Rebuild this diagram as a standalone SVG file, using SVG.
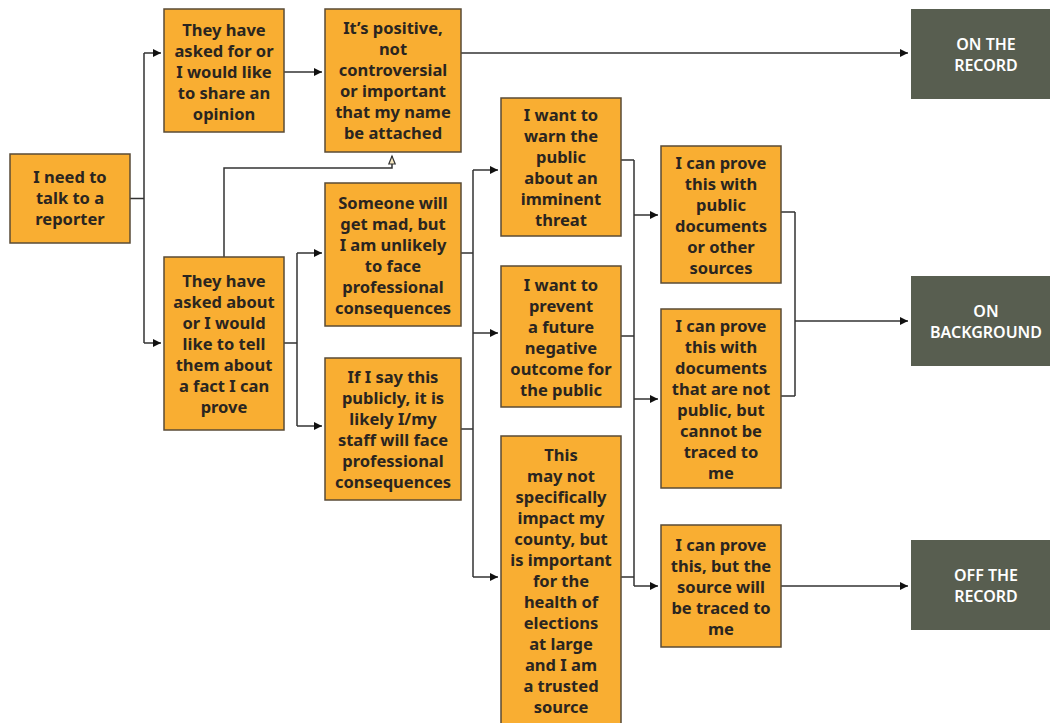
<svg xmlns="http://www.w3.org/2000/svg" width="1050" height="723" viewBox="0 0 1050 723">
<style>
.b{fill:#F9AE32;stroke:#5a4b36;stroke-width:1.5}
.g{fill:#585E50}
.t{font-family:"Noto Sans","Open Sans","Liberation Sans",sans-serif;font-weight:700;font-size:16.5px;fill:#2a2520;text-anchor:middle}
.w{font-family:"Noto Sans","Open Sans","Liberation Sans",sans-serif;font-weight:600;font-size:16px;fill:#ffffff;text-anchor:middle}
.c{fill:none;stroke:#333;stroke-width:1.5}
</style>
<defs>
<marker id="a" viewBox="0 0 10 10" refX="10" refY="5" markerWidth="8" markerHeight="8" markerUnits="userSpaceOnUse" orient="auto" overflow="visible">
<path d="M0,0 L10,5 L0,10 z" fill="#111"/>
</marker>
<marker id="h" viewBox="0 0 10 10" refX="10" refY="5" markerWidth="8" markerHeight="8" markerUnits="userSpaceOnUse" orient="auto" overflow="visible">
<path d="M0,1 L10,5 L0,9 z" fill="#F5E6C0" stroke="#333" stroke-width="1.5"/>
</marker>
</defs>
<rect width="1050" height="723" fill="#ffffff"/>
<g id="connectors">
<path class="c" d="M130,198.5 H144 M144,53 V343"/>
<path class="c" d="M144,53 H161" marker-end="url(#a)"/>
<path class="c" d="M144,343 H161" marker-end="url(#a)"/>
<path class="c" d="M284,72 H322" marker-end="url(#a)"/>
<path class="c" d="M461,53 H908" marker-end="url(#a)"/>
<path class="c" d="M224,257 V168 H392 V156" marker-end="url(#h)"/>
<path class="c" d="M284,343 H297 M297,253 V426"/>
<path class="c" d="M297,253 H322" marker-end="url(#a)"/>
<path class="c" d="M297,426 H322" marker-end="url(#a)"/>
<path class="c" d="M461,253 H473 M461,429 H473 M473,170 V577"/>
<path class="c" d="M473,170 H498" marker-end="url(#a)"/>
<path class="c" d="M473,333 H498" marker-end="url(#a)"/>
<path class="c" d="M473,577 H498" marker-end="url(#a)"/>
<path class="c" d="M621,160 H634 M621,336 H634 M621,577 H634 M634,160 V586"/>
<path class="c" d="M634,215 H658" marker-end="url(#a)"/>
<path class="c" d="M634,399 H658" marker-end="url(#a)"/>
<path class="c" d="M634,586 H658" marker-end="url(#a)"/>
<path class="c" d="M781,212 H795 M781,396 H795 M795,212 V396"/>
<path class="c" d="M795,321 H908" marker-end="url(#a)"/>
<path class="c" d="M781,586 H908" marker-end="url(#a)"/>
</g>
<g id="n1"><rect class="b" x="10" y="154" width="120" height="89"/>
<text class="t"><tspan x="70" y="183">I need to</tspan><tspan x="70" y="204">talk to a</tspan><tspan x="70" y="225">reporter</tspan></text></g>
<g id="n2"><rect class="b" x="164" y="9" width="120" height="123"/>
<text class="t"><tspan x="224" y="35.5">They have</tspan><tspan x="224" y="56.5">asked for or</tspan><tspan x="224" y="77.5">I would like</tspan><tspan x="224" y="98.5">to share an</tspan><tspan x="224" y="119.5">opinion</tspan></text></g>
<g id="n3"><rect class="b" x="325" y="9" width="136" height="143"/>
<text class="t"><tspan x="393" y="34">It’s positive,</tspan><tspan x="393" y="55">not</tspan><tspan x="393" y="76">controversial</tspan><tspan x="393" y="97">or important</tspan><tspan x="393" y="118">that my name</tspan><tspan x="393" y="139">be attached</tspan></text></g>
<g id="n4"><rect class="b" x="164" y="257" width="120" height="173"/>
<text class="t"><tspan x="224" y="286.5">They have</tspan><tspan x="224" y="307.5">asked about</tspan><tspan x="224" y="328.5">or I would</tspan><tspan x="224" y="349.5">like to tell</tspan><tspan x="224" y="370.5">them about</tspan><tspan x="224" y="391.5">a fact I can</tspan><tspan x="224" y="412.5">prove</tspan></text></g>
<g id="n5"><rect class="b" x="325" y="183" width="136" height="143"/>
<text class="t"><tspan x="393" y="208.5">Someone will</tspan><tspan x="393" y="229.5">get mad, but</tspan><tspan x="393" y="250.5">I am unlikely</tspan><tspan x="393" y="271.5">to face</tspan><tspan x="393" y="292.5">professional</tspan><tspan x="393" y="313.5">consequences</tspan></text></g>
<g id="n6"><rect class="b" x="325" y="358" width="136" height="142"/>
<text class="t"><tspan x="393" y="383">If I say this</tspan><tspan x="393" y="404">publicly, it is</tspan><tspan x="393" y="425">likely I/my</tspan><tspan x="393" y="446">staff will face</tspan><tspan x="393" y="467">professional</tspan><tspan x="393" y="488">consequences</tspan></text></g>
<g id="n7"><rect class="b" x="501" y="98" width="120" height="138"/>
<text class="t"><tspan x="561" y="121">I want to</tspan><tspan x="561" y="142">warn the</tspan><tspan x="561" y="163">public</tspan><tspan x="561" y="184">about an</tspan><tspan x="561" y="205">imminent</tspan><tspan x="561" y="226">threat</tspan></text></g>
<g id="n8"><rect class="b" x="501" y="266" width="120" height="141"/>
<text class="t"><tspan x="561" y="290.5">I want to</tspan><tspan x="561" y="311.5">prevent</tspan><tspan x="561" y="332.5">a future</tspan><tspan x="561" y="353.5">negative</tspan><tspan x="561" y="374.5">outcome for</tspan><tspan x="561" y="395.5">the public</tspan></text></g>
<g id="n9"><rect class="b" x="501" y="436" width="120" height="292"/>
<text class="t"><tspan x="561" y="461">This</tspan><tspan x="561" y="482">may not</tspan><tspan x="561" y="503">specifically</tspan><tspan x="561" y="524">impact my</tspan><tspan x="561" y="545">county, but</tspan><tspan x="561" y="566">is important</tspan><tspan x="561" y="587">for the</tspan><tspan x="561" y="608">health of</tspan><tspan x="561" y="629">elections</tspan><tspan x="561" y="650">at large</tspan><tspan x="561" y="671">and I am</tspan><tspan x="561" y="692">a trusted</tspan><tspan x="561" y="713">source</tspan></text></g>
<g id="n10"><rect class="b" x="661" y="146" width="120" height="137"/>
<text class="t"><tspan x="721" y="168.5">I can prove</tspan><tspan x="721" y="189.5">this with</tspan><tspan x="721" y="210.5">public</tspan><tspan x="721" y="231.5">documents</tspan><tspan x="721" y="252.5">or other</tspan><tspan x="721" y="273.5">sources</tspan></text></g>
<g id="n11"><rect class="b" x="661" y="309" width="120" height="179"/>
<text class="t"><tspan x="721" y="331.5">I can prove</tspan><tspan x="721" y="352.5">this with</tspan><tspan x="721" y="373.5">documents</tspan><tspan x="721" y="394.5">that are not</tspan><tspan x="721" y="415.5">public, but</tspan><tspan x="721" y="436.5">cannot be</tspan><tspan x="721" y="457.5">traced to</tspan><tspan x="721" y="478.5">me</tspan></text></g>
<g id="n12"><rect class="b" x="661" y="525" width="120" height="122"/>
<text class="t"><tspan x="721" y="550.5">I can prove</tspan><tspan x="721" y="571.5">this, but the</tspan><tspan x="721" y="592.5">source will</tspan><tspan x="721" y="613.5">be traced to</tspan><tspan x="721" y="634.5">me</tspan></text></g>
<g id="onrecord"><rect class="g" x="911" y="9" width="141" height="90"/>
<text class="w"><tspan x="986" y="49.5">ON THE</tspan><tspan x="986" y="70.5">RECORD</tspan></text></g>
<g id="onbackground"><rect class="g" x="911" y="276" width="141" height="90"/>
<text class="w"><tspan x="986" y="316.5">ON</tspan><tspan x="986" y="337.5">BACKGROUND</tspan></text></g>
<g id="offrecord"><rect class="g" x="911" y="540" width="141" height="90"/>
<text class="w"><tspan x="986" y="580.5">OFF THE</tspan><tspan x="986" y="601.5">RECORD</tspan></text></g>
</svg>
